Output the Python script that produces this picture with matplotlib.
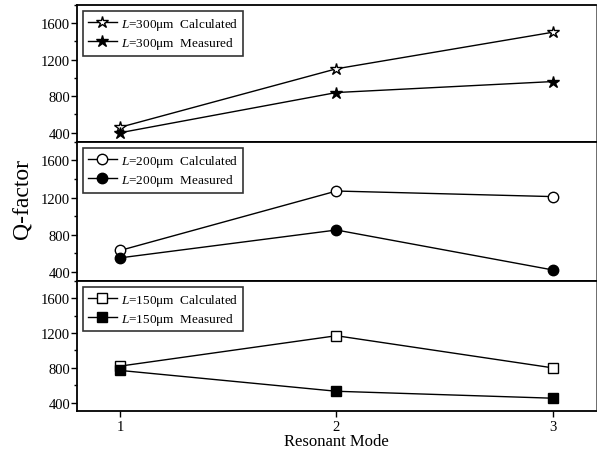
import matplotlib
import matplotlib.pyplot as plt
from matplotlib.ticker import MultipleLocator

matplotlib.use('Agg')

plt.rcParams['font.family'] = 'Liberation Serif'
plt.rcParams['mathtext.fontset'] = 'custom'
plt.rcParams['mathtext.it'] = 'Liberation Serif:italic'
plt.rcParams['mathtext.rm'] = 'Liberation Serif'

modes = [1, 2, 3]

calc300 = [460, 1100, 1500]
meas300 = [400, 840, 960]
calc200 = [630, 1270, 1210]
meas200 = [550, 850, 420]
calc150 = [820, 1170, 800]
meas150 = [770, 530, 450]

panels = [
    ("300", calc300, meas300, "*", 9),
    ("200", calc200, meas200, "o", 7.5),
    ("150", calc150, meas150, "s", 7),
]

fig = plt.figure(figsize=(5.97, 4.52), dpi=100)

bounds = [(0.684, 0.987), (0.376, 0.684), (0.088, 0.376)]

for i, ((length, calc, meas, mk, ms), (bot, top)) in enumerate(zip(panels, bounds)):
    ax = fig.add_axes([0.129, bot, 0.869, top - bot])

    ax.plot(modes, calc, color="black", lw=1, marker=mk, ms=ms,
            mfc="white", mec="black", mew=1,
            label=rf"$\it{{L}}$={length}μm  Calculated")
    ax.plot(modes, meas, color="black", lw=1, marker=mk, ms=ms,
            mfc="black", mec="black", mew=1,
            label=rf"$\it{{L}}$={length}μm  Measured")

    ax.set_xlim(0.8, 3.2)
    ax.set_ylim(300, 1800)
    ax.yaxis.set_major_locator(MultipleLocator(400))
    ax.yaxis.set_minor_locator(MultipleLocator(200))
    ax.set_yticks([400, 800, 1200, 1600])
    ax.tick_params(axis="y", which="major", direction="out", length=4,
                   width=1, labelsize=10.5, pad=1)
    ax.tick_params(axis="y", which="minor", direction="out", length=2, width=1)

    for side in ["left", "bottom", "top"]:
        ax.spines[side].set_linewidth(1.3)
    ax.spines["right"].set_linewidth(0.6)
    ax.spines["right"].set_color("#555555")

    if i < 2:
        ax.tick_params(axis="x", which="both", bottom=False, labelbottom=False)
    else:
        ax.set_xticks(modes)
        ax.tick_params(axis="x", direction="out", length=4, width=1,
                       labelsize=10.5, pad=2)
        ax.set_xlabel("Resonant Mode", fontsize=12, labelpad=0)

    leg = ax.legend(loc="upper left", fontsize=9.5, frameon=True,
                    fancybox=False, borderpad=0.35, handlelength=2.2,
                    handletextpad=0.3, labelspacing=0.25,
                    bbox_to_anchor=(0.012, 0.955), borderaxespad=0)
    leg.get_frame().set_edgecolor("black")
    leg.get_frame().set_linewidth(1.2)

fig.text(0.038, 0.56, "Q-factor", rotation=90, fontsize=17,
         ha="center", va="center")

plt.savefig("out.png", dpi=100)
plt.close()
